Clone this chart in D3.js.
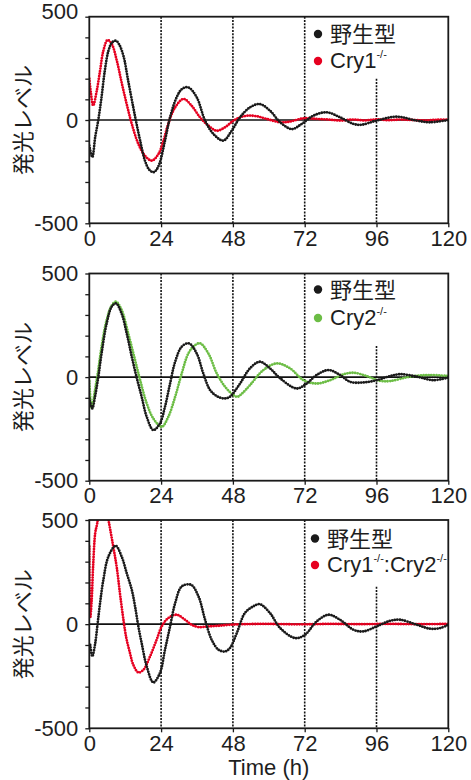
<!DOCTYPE html>
<html>
<head>
<meta charset="utf-8">
<title>Luminescence rhythms</title>
<style>
body {
    margin: 0px;
    overflow: hidden;
    background: #fff;
}
svg text {
    font-family: "Liberation Sans", Arial, "Noto Sans CJK JP", sans-serif;
    fill: #1e1e1e;
}
</style>
<script src="https://cdnjs.cloudflare.com/ajax/libs/d3/7.8.5/d3.min.js"></script>
</head>
<body>
<div id="chart"></div>
<script>

// ---- data (time h, luminescence) ----
var timeTicks = [0, 24, 48, 72, 96, 120];
var yLabelTicks = [500, 0, -500];
var yMinorTicks = d3.range(-500, 501, 100);

var wt1 = [[0,-124],[1,-180],[2,-80],[3,0],[4,100],[5.2,240],[6.4,335],[7.6,375],[8.9,384],[10,365],[11.4,311],
    [13,190],[14.7,61],[15.8,-19],[17,-100],[18.6,-197],[20,-240],[21.4,-253],[22.5,-240],[23.6,-205],[25.3,-100],
    [27,13],[29.2,110],[31,150],[33.1,158],[35.9,110],[38.7,-3],[41.5,-68],[44.8,-100],[47.6,-52],[50.4,13],
    [53.7,61],[57,77],[60.4,45],[63.8,-11],[67.7,-44],[71,-19],[74.9,21],[79.4,37],[83.8,13],[88.3,-19],[91,-23],
    [96,-3],[102.8,16],[109.4,-3],[113.9,-11],[120,0]];
var cry1 = [[0,200],[0.5,135],[1.3,70],[2.5,142],[3.6,239],[4.7,335],[6.1,387],[7.5,368],[9.2,287],[10.8,182],
    [12.5,77],[14.2,-19],[16.4,-116],[18.6,-173],[20.9,-197],[23.1,-165],[24.8,-100],[26.4,-19],[28.7,61],
    [31.5,102],[34.2,69],[37,13],[39.8,-27],[42.6,-52],[45.4,-35],[48.2,-3],[50.4,13],[53,21],[56,18],[59.3,5],
    [63.8,-11],[67,-8],[71.6,8],[76,5],[80,2],[84,-3],[88,2],[92,-2],[96,3],[100,-1],[104,2],[108,0],[112,-2],
    [116,1],[120,2]];

var wt2 = [[0,-103],[1,-151],[1.9,-95],[3,0],[4.1,114],[5.8,259],[7.5,340],[8.9,356],[10.8,307],[12.5,211],
    [14.2,98],[15.8,0],[17.5,-95],[19.2,-192],[21.4,-256],[23.6,-224],[25.3,-143],[27,-31],[28.7,74],[30.9,147],
    [33.3,163],[35.9,114],[38.1,18],[40.4,-63],[43,-95],[45.4,-103],[47,-95],[50.4,-31],[53.7,42],[57,74],
    [60.4,42],[63.8,-6],[69.3,-55],[72.7,-31],[76,10],[80,34],[83.8,10],[87.2,-23],[91.6,-26],[96.1,-15],
    [100.6,5],[103.9,14],[109.5,2],[115,-15],[120,-2]];
var cry2 = [[0,-20],[0.8,-151],[1.9,-63],[3,34],[4.1,147],[5.8,275],[7.5,345],[8.9,364],[10.8,324],[13,211],
    [15.3,82],[17,-15],[19.2,-127],[21.4,-200],[24.2,-240],[26.4,-192],[28.7,-95],[30.9,18],[33.1,114],[35,150],
    [37,163],[39.8,114],[42.6,18],[45.4,-47],[48.2,-87],[49.5,-95],[51,-80],[53.7,-39],[58.2,34],[62.7,66],
    [67.1,42],[71.6,-15],[76,-31],[80.5,-15],[84.9,13],[88.3,21],[92.7,5],[97.2,-18],[100.6,-19],[107.2,2],
    [113.9,10],[120,5]];

var wt3 = [[0.3,-100],[1,-155],[1.9,-99],[2.8,5],[3.6,101],[4.7,213],[6.4,325],[8.8,376],[10.8,325],[12.5,245],
    [14.2,165],[15.3,85],[16.4,-11],[17.5,-91],[19.2,-203],[21.4,-280],[23.6,-235],[25.3,-123],[27,-11],
    [28.7,101],[30.9,181],[34,189],[36.5,133],[38.7,21],[40.9,-75],[43.2,-123],[45.4,-131],[47,-115],[49.3,-43],
    [52,53],[54.8,85],[57,96],[60.4,53],[63.8,-19],[68.8,-67],[72.1,-51],[76,13],[80,45],[83.8,21],[88.3,-27],
    [91.6,-35],[96,-11],[100.6,16],[103.9,21],[109.5,-3],[113.9,-22],[117.3,-19],[120,-3]];
var cry12 = [[0,373],[0.3,30],[0.8,117],[1.3,285],[2,440],[2.6,480],[3.5,560],[5,600],[6.6,485],[8,373],
    [9.2,270],[10.4,130],[11.9,-27],[12.5,-75],[13.6,-139],[14.7,-195],[16.4,-232],[18.1,-219],[20.3,-155],
    [22.5,-75],[24.2,-11],[26.4,29],[29.2,45],[32,21],[34.2,-3],[36.5,-14],[39.8,-11],[43,-8],[47,-3],[52,0],
    [60,1],[70,-1],[80,1],[90,0],[100,1],[110,0],[120,1]];

var black = "#1a1a1a", red = "#e60020", green = "#6cbd45";

var panels = [
    { top: 16.7, bottom: 223.3, lines: [[cry1, red], [wt1, black]], mark96: 200, topLabelShift: -5,
      legend: [{ x: 318, y: 34, color: black, name: "野生型" }, { x: 318, y: 61, color: red, name: "Cry1", sup: "-/-" }] },
    { top: 273.5, bottom: 480.7, lines: [[cry2, green], [wt2, black]], mark96: 150, topLabelShift: 0,
      legend: [{ x: 318, y: 289.5, color: black, name: "野生型" }, { x: 318, y: 318, color: green, name: "Cry2", sup: "-/-" }] },
    { top: 520, bottom: 728.3, lines: [[cry12, red], [wt3, black]], mark96: 180, topLabelShift: 0,
      legend: [{ x: 315, y: 538.5, color: black, name: "野生型" }, { x: 315, y: 565, color: red, name: "Cry1", sup: "-/-", name2: ":Cry2", sup2: "-/-" }] }
];

var width = 471, height = 780;
var left = 89.3, right = 448.3;

var svg = d3.select("#chart").append("svg")
    .attr("width", width)
    .attr("height", height);

var x = d3.scaleLinear().domain([0, 120]).range([left, right]);

panels.forEach(function (p, i) {
    var y = d3.scaleLinear().domain([-500, 500]).range([p.bottom, p.top]);
    var g = svg.append("g");

    g.append("clipPath").attr("id", "clip" + i)
        .append("rect")
        .attr("x", left).attr("y", p.top)
        .attr("width", right - left).attr("height", p.bottom - p.top);

    // dashed day markers
    [24, 48, 72, 96].forEach(function (t) {
        g.append("line")
            .attr("x1", x(t)).attr("x2", x(t))
            .attr("y1", t === 96 ? y(p.mark96) : p.top).attr("y2", p.bottom)
            .attr("stroke", "#111")
            .attr("stroke-width", 1.6)
            .attr("stroke-dasharray", "2 1.3");
    });

    // zero line
    g.append("line")
        .attr("x1", left).attr("x2", right)
        .attr("y1", y(0)).attr("y2", y(0))
        .attr("stroke", "#111")
        .attr("stroke-width", 1.6);

    var line = d3.line()
        .x(function (d) { return x(d[0]); })
        .y(function (d) { return y(d[1]); })
        .curve(d3.curveCatmullRom.alpha(0.5));

    p.lines.forEach(function (s) {
        g.append("path")
            .attr("clip-path", "url(#clip" + i + ")")
            .attr("d", line(s[0]))
            .attr("fill", "none")
            .attr("stroke", s[1])
            .attr("stroke-width", 2.8)
            .attr("stroke-linecap", "round")
            .attr("stroke-dasharray", "0 2.6");
    });

    // frame
    g.append("rect")
        .attr("x", left).attr("y", p.top)
        .attr("width", right - left).attr("height", p.bottom - p.top)
        .attr("fill", "none")
        .attr("stroke", "#1a1a1a")
        .attr("stroke-width", 1.8);

    var yAxis = g.append("g")
        .attr("transform", "translate(" + left + ",0)")
        .call(d3.axisLeft(y).tickValues(yMinorTicks).tickSize(4).tickPadding(7)
            .tickFormat(function (d) { return yLabelTicks.indexOf(d) >= 0 ? String(d) : ""; }));
    yAxis.select(".domain").remove();
    yAxis.selectAll("line").attr("stroke", "#1a1a1a").attr("stroke-width", 1.3);
    yAxis.selectAll("text").style("font-size", "22px").attr("fill", "#1e1e1e")
        .filter(function (d) { return d === 500; })
        .attr("y", p.topLabelShift);

    var xAxis = g.append("g")
        .attr("transform", "translate(0," + p.bottom + ")")
        .call(d3.axisBottom(x).tickValues(timeTicks).tickSize(4).tickPadding(3));
    xAxis.select(".domain").remove();
    xAxis.selectAll("line").attr("stroke", "#1a1a1a").attr("stroke-width", 1.3);
    xAxis.selectAll("text").style("font-size", "22px").attr("fill", "#1e1e1e");

    // y title
    g.append("text")
        .attr("transform", "translate(31," + y(0) + ") rotate(-90)")
        .attr("text-anchor", "middle")
        .style("font-family", "'Noto Sans CJK JP', sans-serif")
        .style("font-size", "22px")
        .text("発光レベル");

    // legend
    p.legend.forEach(function (l, k) {
        g.append("circle")
            .attr("cx", l.x).attr("cy", l.y).attr("r", 4.2)
            .attr("fill", l.color);
        var t = g.append("text")
            .attr("x", l.x + 12)
            .attr("y", l.y + (k === 0 ? 8 : 6.5))
            .style("font-size", "22px");
        if (k === 0) {
            t.style("font-family", "'Noto Sans CJK JP', sans-serif").text(l.name);
        } else {
            t.append("tspan").text(l.name);
            t.append("tspan").attr("dy", -10).style("font-size", "11px").text(l.sup);
            if (l.name2) {
                t.append("tspan").attr("dy", 10).text(l.name2);
                t.append("tspan").attr("dy", -10).style("font-size", "11px").text(l.sup2);
            }
        }
    });
});

svg.append("text")
    .attr("x", (left + right) / 2)
    .attr("y", 775.3)
    .attr("text-anchor", "middle")
    .style("font-size", "22px")
    .text("Time (h)");

</script>
</body>
</html>
